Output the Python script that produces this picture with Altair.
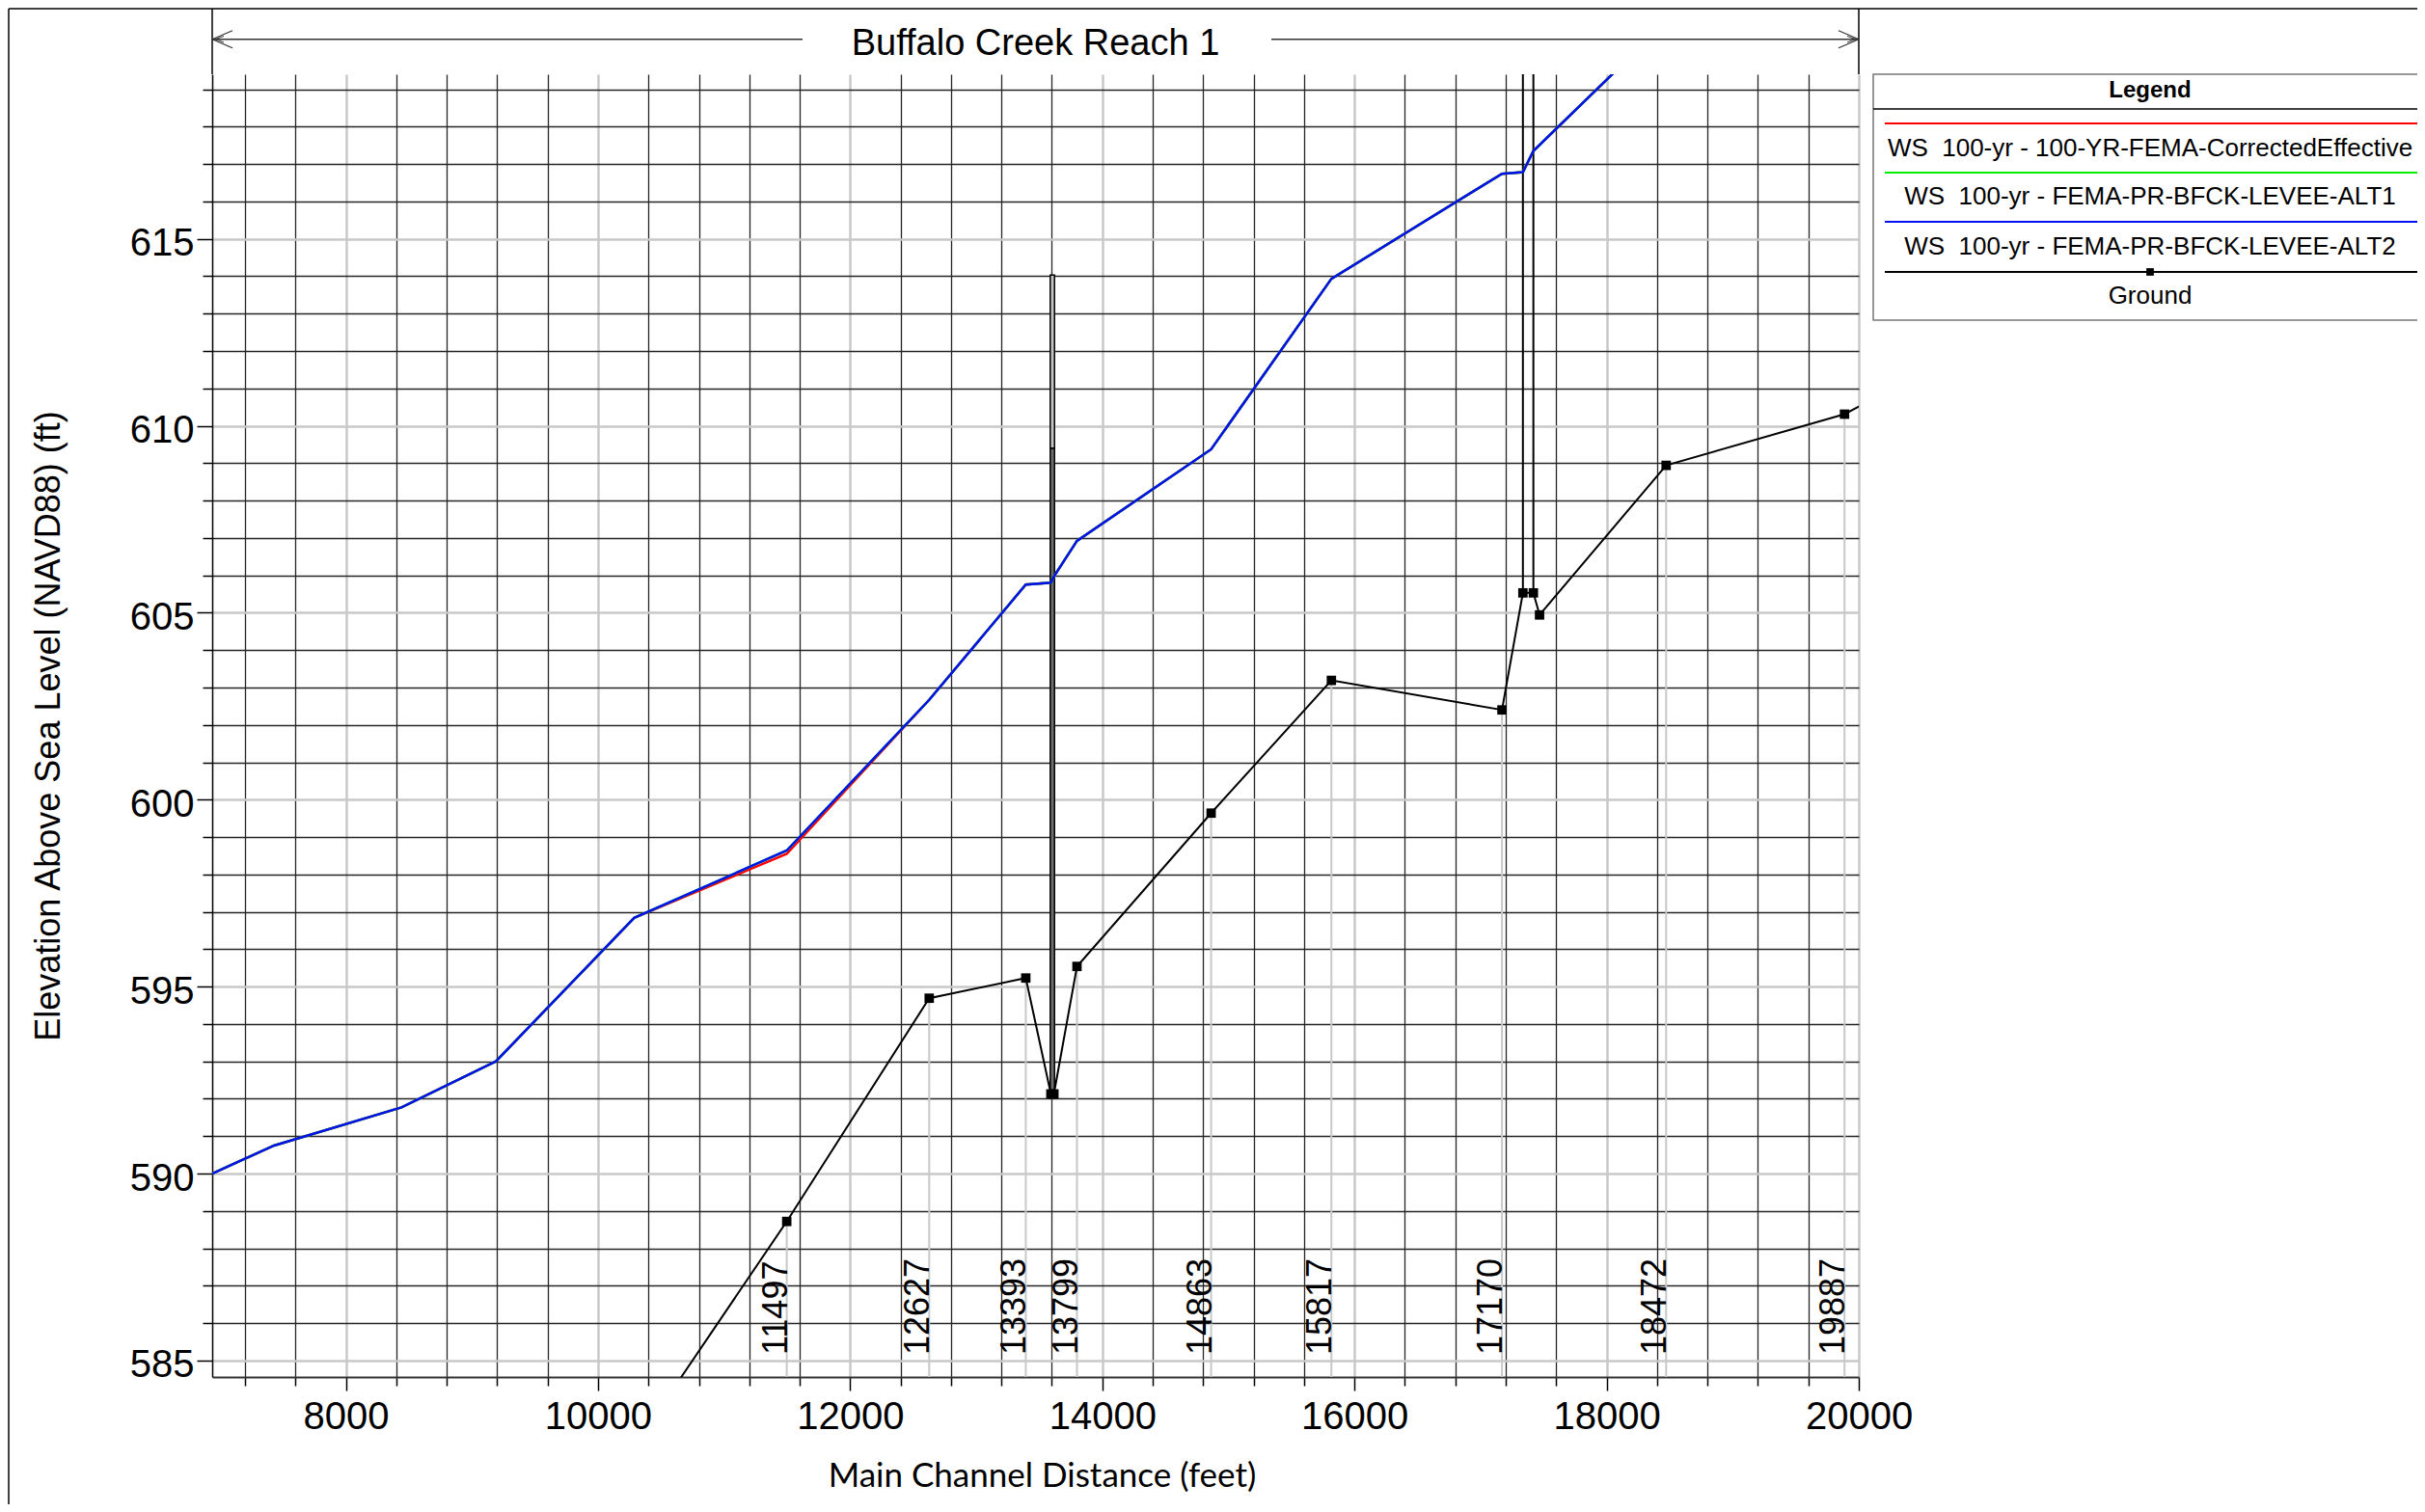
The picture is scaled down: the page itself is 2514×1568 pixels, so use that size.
import altair as alt
import pandas as pd

FONT = "Liberation Sans"

# ---------------- data ----------------
ws_station = [6940, 7431, 8442, 9190, 10287, 11497, 12627, 13393, 13592, 13616,
              13799, 14863, 15817, 17170, 17336, 17419, 18472]
ws_eff = [590.00, 590.75, 591.77, 593.00, 596.84, 598.55, 602.67, 605.75, 605.80, 605.97,
          606.92, 609.37, 613.93, 616.74, 616.78, 617.35, 620.80]
ws_alt1 = [590.00, 590.75, 591.77, 593.00, 596.84, 598.64, 602.67, 605.75, 605.80, 605.97,
           606.92, 609.37, 613.93, 616.74, 616.78, 617.35, 620.80]
ws_alt2 = [590.00, 590.75, 591.77, 593.00, 596.84, 598.64, 602.67, 605.75, 605.80, 605.97,
           606.92, 609.37, 613.93, 616.74, 616.78, 617.35, 620.80]

ground_station = [10287, 11497, 12627, 13393, 13592, 13616, 13799, 14863, 15817,
                  17170, 17336, 17419, 17468, 18472, 19887, 20300]
ground_elev = [582.70, 588.72, 594.69, 595.23, 592.13, 592.13, 595.54, 599.64, 603.19,
               602.40, 605.53, 605.53, 604.94, 608.94, 610.31, 611.05]

xs_station = [11497, 12627, 13393, 13799, 14863, 15817, 17170, 18472, 19887]
xs_ground = [588.72, 594.69, 595.23, 595.54, 599.64, 603.19, 602.40, 608.94, 610.31]
xs_label = ["11497", "12627", "13393", "13799", "14863", "15817", "17170", "18472", "19887"]

bridge_left = [13587]
bridge_right = [13621]
bridge_ground = [592.13]
bridge_low = [609.40]
bridge_top = [614.03]

culvert_station = [17336, 17419]
culvert_base = [605.53, 605.53]
culvert_top = [625.0, 625.0]

legend_labels = ["WS\u00a0\u00a0100-yr - 100-YR-FEMA-CorrectedEffective",
                 "WS\u00a0\u00a0100-yr - FEMA-PR-BFCK-LEVEE-ALT1",
                 "WS\u00a0\u00a0100-yr - FEMA-PR-BFCK-LEVEE-ALT2",
                 "Ground"]
x_domain = [6940, 20000]
y_domain = [584.56, 619.40]

# ---------------- layout ----------------
W, H = 1707, 1351
MINOR = "#262626"
MAJOR = "#c8c8c8"

xs = alt.Scale(domain=x_domain, nice=False, zero=False)
ys = alt.Scale(domain=y_domain, nice=False, zero=False)

x_axis = alt.Axis(
    values=list(range(7200, 20001, 400)),
    format="d",
    labelExpr="datum.value % 2000 === 0 ? datum.label : ''",
    grid=True,
    gridColor={"condition": {"test": "datum.value % 2000 === 0", "value": MAJOR}, "value": MINOR},
    gridWidth={"condition": {"test": "datum.value % 2000 === 0", "value": 2.5}, "value": 1.3},
    tickSize={"condition": {"test": "datum.value % 2000 === 0", "value": 14}, "value": 9},
    tickColor="#000000", tickWidth=1.5,
    domainColor="#333333", domainWidth=2,
    labelFont=FONT, labelFontSize=40, labelColor="#000000",
    labelBaseline="alphabetic", labelPadding=39,
    labelOverlap=False, labelFlush=False, labelBound=False,
    title="Main Channel Distance (feet)",
    titleFont="Lato", titleFontSize=35, titleFontWeight="normal", titleColor="#000000",
    titleX=860, titleY=113, titleBaseline="alphabetic", titleAlign="center",
)

y_axis = alt.Axis(
    values=list(range(585, 620)),
    labelExpr="datum.value % 5 === 0 ? datum.label : ''",
    grid=True,
    gridColor={"condition": {"test": "datum.value % 5 === 0", "value": MAJOR}, "value": MINOR},
    gridWidth={"condition": {"test": "datum.value % 5 === 0", "value": 2.5}, "value": 1.3},
    tickSize={"condition": {"test": "datum.value % 5 === 0", "value": 16}, "value": 10},
    tickColor="#000000", tickWidth=1.5,
    domainColor="#000000", domainWidth=1.5,
    labelFont=FONT, labelFontSize=40, labelColor="#000000",
    labelPadding=3, labelOffset=5, labelOverlap=False, labelFlush=False, labelBound=False,
    title="Elevation Above Sea Level (NAVD88) (ft)",
    titleFont=FONT, titleFontSize=36, titleFontWeight="normal", titleColor="#000000",
    titleX=-151, titleY=H / 2, titleAngle=270, titleBaseline="bottom", titleAlign="center",
)


def X(field):
    return alt.X(field, scale=xs, axis=x_axis)


def Y(field):
    return alt.Y(field, scale=ys, axis=y_axis)


ws_df = pd.DataFrame({"station": ws_station, "eff": ws_eff, "alt1": ws_alt1, "alt2": ws_alt2})
ground_df = pd.DataFrame({"station": ground_station, "elev": ground_elev})
xs_df = pd.DataFrame({"station": xs_station, "ground": xs_ground, "label": xs_label})
bridge_df = pd.DataFrame({"station": bridge_left, "x2": bridge_right, "elev": bridge_ground,
                          "low": bridge_low, "top": bridge_top})
culvert_df = pd.DataFrame({"station": culvert_station, "elev": culvert_base, "top": culvert_top})

# cross-section marker lines (light grey, from ground down to the axis)
xs_rules = alt.Chart(xs_df).mark_rule(color="#c8c8c8", strokeWidth=2).encode(
    x=X("station:Q"), y=Y("ground:Q"), y2=alt.value(H),
)

bridge_pier = alt.Chart(bridge_df).mark_rect(fill="#6e6e6e", stroke="#000000", strokeWidth=1.5).encode(
    x=X("station:Q"), x2="x2:Q", y=Y("elev:Q"), y2="low:Q",
)
bridge_deck = alt.Chart(bridge_df).mark_rect(fill="#c4c4c4", stroke="#000000", strokeWidth=1.5).encode(
    x=X("station:Q"), x2="x2:Q", y=Y("low:Q"), y2="top:Q",
)

culverts = alt.Chart(culvert_df).mark_rule(color="#000000", strokeWidth=2, clip=True).encode(
    x=X("station:Q"), y=Y("elev:Q"), y2="top:Q",
)


def ws_line(field, color):
    return alt.Chart(ws_df).mark_line(color=color, strokeWidth=2.5, clip=True).encode(
        x=X("station:Q"), y=Y(f"{field}:Q"), order="station:Q",
    )


red = ws_line("eff", "#ff0000")
green = ws_line("alt1", "#00ee00")
blue = ws_line("alt2", "#0010ee")

ground_line = alt.Chart(ground_df).mark_line(color="#000000", strokeWidth=2, clip=True).encode(
    x=X("station:Q"), y=Y("elev:Q"), order="station:Q",
)
ground_pts = alt.Chart(ground_df).mark_square(color="#000000", size=95, opacity=1, clip=True).encode(
    x=X("station:Q"), y=Y("elev:Q"),
)

xs_text = alt.Chart(xs_df).mark_text(
    angle=270, align="left", baseline="alphabetic", font=FONT, fontSize=36, color="#000000"
).encode(
    x=X("station:Q"), y=alt.value(1328), text="label:N",
)

# ---------------- decorations (frame, title band, legend) in pixels ----------------
deco_x = [-211, -211, 0, W, 0, 1098, 0, 0, 3, 3, W, W, W - 3, W - 3, 1722, 1734, 1734, 1734, 1734]
deco_x2 = [2300, -211, 0, W, 612, W, 21, 21, 12, 12, W - 21, W - 21, W - 12, W - 12, 2300, 2287, 2287, 2287, 2287]
deco_y = [-68, -68, -68, -68, -36.3, -36.3, -36.3, -36.3, -36.3, -36.3, -36.3, -36.3, -36.3, -36.3, 36, 51, 102, 153, 205]
deco_y2 = [-68, 1500, 0, 0, -36.3, -36.3, -45.3, -27.3, -39.5, -33.1, -45.3, -27.3, -39.5, -33.1, 36, 51, 102, 153, 205]
deco_c = ["#000000"] * 4 + ["#333333"] * 10 + ["#000000", "#ff0000", "#00ee00", "#0010ee", "#000000"]
deco_w = [1.5] * 4 + [1.5, 1.5, 1.2, 1.2, 1, 1, 1.2, 1.2, 1, 1] + [1.5, 2, 2, 2, 2]

deco = pd.DataFrame({"px": deco_x, "px2": deco_x2, "py": deco_y, "py2": deco_y2,
                     "c": deco_c, "w": deco_w})

legend_box = alt.Chart(pd.DataFrame({"a": [0]})).mark_rect(
    fill="#ffffff", stroke="#777777", strokeWidth=1.5
).encode(x=alt.value(1722), x2=alt.value(2330), y=alt.value(0), y2=alt.value(255))

deco_rules = alt.Chart(deco).mark_rule().encode(
    x=alt.X("px:Q", scale=None, axis=None), x2="px2:Q",
    y=alt.Y("py:Q", scale=None, axis=None), y2="py2:Q",
    color=alt.Color("c:N", scale=None),
    strokeWidth=alt.StrokeWidth("w:Q", scale=None),
)

leg_text_df = pd.DataFrame({"t": legend_labels, "px": [2009] * 4, "py": [77, 127, 179, 230]})
legend_text = alt.Chart(leg_text_df).mark_text(
    font=FONT, fontSize=26, color="#000000", align="center", baseline="middle"
).encode(
    x=alt.X("px:Q", scale=None, axis=None),
    y=alt.Y("py:Q", scale=None, axis=None),
    text="t:N",
)
legend_title = alt.Chart(pd.DataFrame({"t": ["Legend"]})).mark_text(
    font=FONT, fontSize=24, fontWeight="bold", color="#000000", align="center", baseline="middle"
).encode(x=alt.value(2009), y=alt.value(17), text="t:N")

legend_square = alt.Chart(pd.DataFrame({"a": [0]})).mark_square(
    color="#000000", size=60, opacity=1
).encode(x=alt.value(2009), y=alt.value(205))

title_text = alt.Chart(pd.DataFrame({"t": ["Buffalo Creek Reach 1"]})).mark_text(
    font=FONT, fontSize=38, color="#000000", align="center", baseline="alphabetic"
).encode(x=alt.value(W / 2), y=alt.value(-20), text="t:N")

chart = alt.layer(
    xs_rules, bridge_pier, bridge_deck, culverts, red, green, blue,
    ground_line, ground_pts, xs_text,
    legend_box, deco_rules, legend_text, legend_title, legend_square, title_text,
).properties(
    width=W, height=H,
    padding={"left": 212, "top": 69, "right": 579, "bottom": 132},
    autosize=alt.AutoSizeParams(type="none"),
    background="#ffffff",
).configure_view(stroke=None)

chart.save("out.html", embed_options={"renderer": "svg", "actions": False})
